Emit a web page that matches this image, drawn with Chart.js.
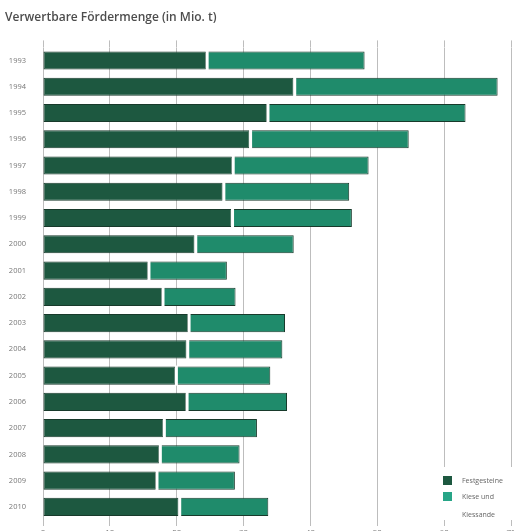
<!DOCTYPE html>
<html>
<head>
<meta charset="utf-8">
<script src="https://cdn.jsdelivr.net/npm/chart.js@4.4.1/dist/chart.umd.min.js"></script>
<style>
  html, body { margin: 0; padding: 0; background: #fff; overflow: hidden; }
  #wrap { position: relative; width: 514px; height: 531px; overflow: hidden; }
  #box { position: absolute; left: 0; top: 0; width: 514px; height: 545px; }
</style>
</head>
<body>
<div id="wrap"><div id="box"><canvas id="c"></canvas></div></div>
<script>
const titleText = 'Verwertbare Fördermenge (in Mio. t)';
const years = ['1993','1994','1995','1996','1997','1998','1999','2000','2001','2002','2003','2004','2005','2006','2007','2008','2009','2010'];
const festgesteine = [24.4, 37.5, 33.5, 30.9, 28.3, 26.9, 28.2, 22.7, 15.7, 17.8, 21.7, 21.5, 19.8, 21.4, 18.0, 17.4, 16.9, 20.3];
const kieseKiessande = [23.7, 30.5, 29.7, 23.8, 20.4, 18.9, 18.0, 14.8, 11.8, 11.0, 14.5, 14.3, 14.2, 15.1, 14.0, 12.0, 11.8, 13.4];
const xTickValues = [0, 10, 20, 30, 40, 50, 60, 70];
const seriesNames = ['Festgesteine', ['Kiese und', 'Kiessande']];
const seriesColors = ['#1d5840', '#1f8b6b'];
const legendColors = ['#1d5840', '#27a587'];
const outlineColor = '#183a2b';

const gapPlugin = {
  id: 'gap',
  afterDatasetsDraw(chart) {
    const ctx = chart.ctx;
    const meta = chart.getDatasetMeta(1);
    ctx.save();
    ctx.fillStyle = '#ffffff';
    meta.data.forEach(bar => {
      const p = bar.getProps(['x', 'y', 'base', 'height'], true);
      ctx.fillRect(p.base - 0.5, p.y - p.height / 2 - 1, 3, p.height + 2);
    });
    ctx.restore();
  }
};

const legendPlugin = {
  id: 'customLegend',
  afterDraw(chart) {
    const ctx = chart.ctx;
    ctx.save();
    ctx.fillStyle = '#ffffff';
    ctx.fillRect(436, 467, 78, 53);
    const sx = 443, size = 9;
    const rows = [476, 492];
    ctx.font = '7px "Open Sans", sans-serif';
    ctx.textBaseline = 'middle';
    seriesNames.forEach((name, i) => {
      ctx.fillStyle = legendColors[i];
      ctx.fillRect(sx, rows[i], size, size);
      ctx.fillStyle = '#666';
      const lines = Array.isArray(name) ? name : [name];
      lines.forEach((ln, j) => {
        ctx.fillText(ln, 462, rows[i] + size / 2 + j * 18);
      });
    });
    ctx.restore();
  }
};

new Chart(document.getElementById('c'), {
  type: 'bar',
  data: {
    labels: years,
    datasets: [
      {
        label: 'Festgesteine',
        data: festgesteine,
        backgroundColor: seriesColors[0],
        borderColor: outlineColor,
        borderWidth: 1,
        borderSkipped: false,
        categoryPercentage: 1,
        barPercentage: 0.69
      },
      {
        label: 'Kiese und Kiessande',
        data: kieseKiessande,
        backgroundColor: seriesColors[1],
        borderColor: outlineColor,
        borderWidth: 1,
        borderSkipped: false,
        categoryPercentage: 1,
        barPercentage: 0.69
      }
    ]
  },
  options: {
    indexAxis: 'y',
    responsive: true,
    maintainAspectRatio: false,
    animation: false,
    layout: { padding: { left: 5, right: 3, top: 0, bottom: 0 } },
    plugins: {
      legend: { display: false },
      tooltip: { enabled: false },
      title: {
        display: true,
        text: titleText,
        align: 'start',
        color: '#4d4d4d',
        font: { family: '"Open Sans", sans-serif', size: 12, weight: '600' },
        padding: { top: 10, bottom: 16 }
      }
    },
    scales: {
      x: {
        stacked: true,
        position: 'bottom',
        min: 0,
        max: 70,
        afterBuildTicks: s => { s.ticks = xTickValues.map(v => ({ value: v })); },
        grid: { color: '#bdbdbd', lineWidth: 1, tickLength: 6, drawTicks: true },
        border: { display: false },
        ticks: { color: '#777', font: { family: '"Open Sans", sans-serif', size: 8 }, padding: 2 },
        afterFit: s => { s.height = 25; s.paddingRight = 0; s.paddingLeft = 0; }
      },
      x2: {
        position: 'top',
        min: 0,
        max: 70,
        afterBuildTicks: s => { s.ticks = xTickValues.map(v => ({ value: v })); },
        grid: { color: '#bdbdbd', lineWidth: 1, tickLength: 7, drawOnChartArea: false },
        border: { display: false },
        ticks: { display: false },
        afterFit: s => { s.height = 7; s.paddingRight = 0; s.paddingLeft = 0; }
      },
      y: {
        stacked: true,
        grid: { display: false },
        border: { display: false },
        ticks: { color: '#777', font: { family: '"Open Sans", sans-serif', size: 7.5 }, padding: 9 },
        afterFit: s => { s.width = 38; }
      }
    }
  },
  plugins: [gapPlugin, legendPlugin]
});
</script>
</body>
</html>
